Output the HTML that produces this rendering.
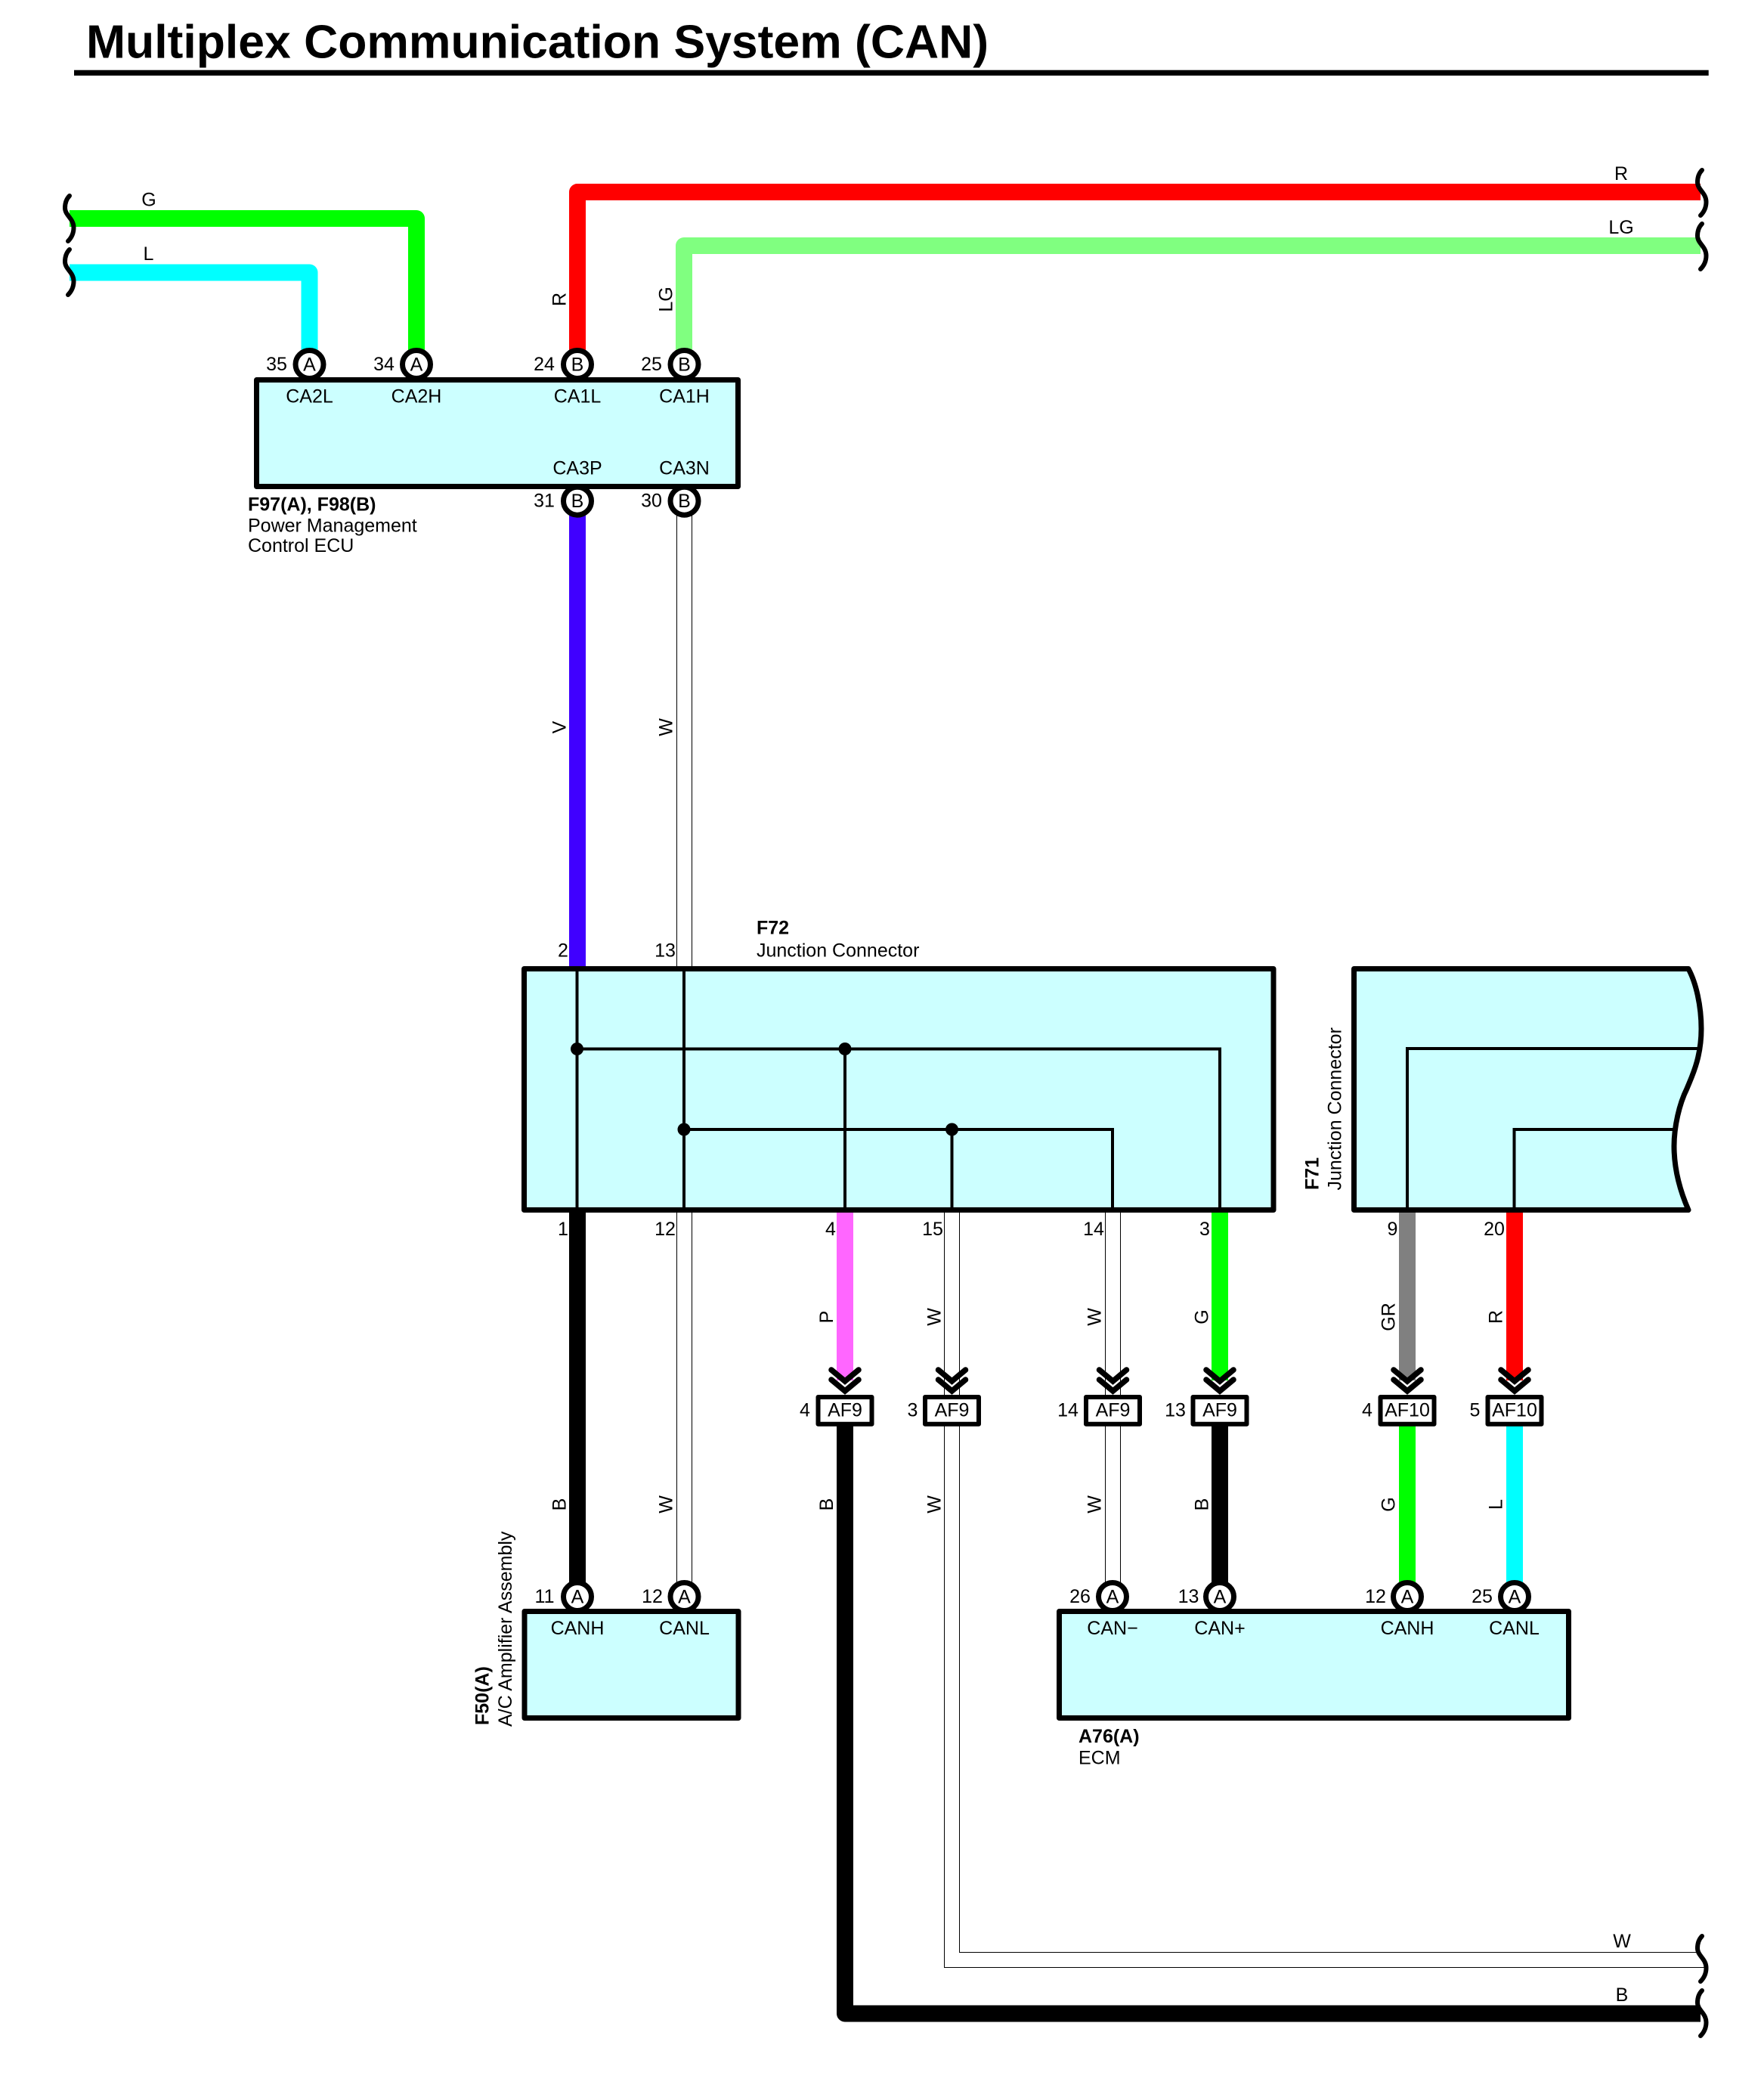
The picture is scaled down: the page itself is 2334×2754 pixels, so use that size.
<!DOCTYPE html>
<html><head><meta charset="utf-8"><title>Multiplex Communication System (CAN)</title>
<style>
html,body{margin:0;padding:0;background:#fff;width:2334px;height:2754px;overflow:hidden}
svg{display:block}
text{font-family:"Liberation Sans",sans-serif;font-size:25px;fill:#000}
.m{text-anchor:middle}
.b{font-weight:bold}
.w{fill:none;stroke-width:22;stroke-linejoin:round;stroke-linecap:butt}
.t{stroke:#000;stroke-width:1;fill:none}
.c{fill:#fff;stroke:#000;stroke-width:7}
.box{fill:#ccffff;stroke:#000;stroke-width:7;stroke-linejoin:round}
.i{fill:none;stroke:#000;stroke-width:4}
.ch{fill:none;stroke:#000;stroke-width:7.500;stroke-linecap:round;stroke-linejoin:miter}
.af{fill:#fff;stroke:#000;stroke-width:6;stroke-linejoin:round}
.sq{fill:none;stroke:#000;stroke-width:6;stroke-linecap:round}
</style></head><body>
<svg xmlns="http://www.w3.org/2000/svg" width="2334" height="2754" viewBox="0 0 2334 2754">
<defs><path id="sq" class="sq" d="M0 0C-4 4 -6 10 -6 16C-6 26 5.500 30 5.500 42C5.500 50 2 56 -2 60"/></defs>
<rect width="2334" height="2754" fill="#fff"/>

<text x="114" y="76.500" class="b" style="font-size:62px" textLength="1194" lengthAdjust="spacingAndGlyphs">Multiplex Communication System (CAN)</text>
<rect x="98" y="92.700" width="2162.700" height="7.300" fill="#000"/>

<!-- top wires -->
<path class="w" stroke="#00ff00" d="M92 289H551V482"/>
<path class="w" stroke="#00ffff" d="M92 360.500H409.500V482"/>
<path class="w" stroke="#ff0000" d="M2250 254H764V482"/>
<path class="w" stroke="#80ff80" d="M2250 325H905V482"/>
<path class="w" stroke="#4000ff" d="M764 663V1282"/>
<line class="t" x1="895.500" y1="663" x2="895.500" y2="1280"/>
<line class="t" x1="915.500" y1="663" x2="915.500" y2="1280"/>

<use href="#sq" x="92" y="259"/><use href="#sq" x="92" y="330"/>
<use href="#sq" x="2252" y="225"/><use href="#sq" x="2252" y="296"/>
<use href="#sq" x="2252" y="2561"/><use href="#sq" x="2252" y="2633"/>

<!-- lower wires -->
<path class="w" stroke="#000" d="M764 1600V2112"/>
<line class="t" x1="895.500" y1="1600" x2="895.500" y2="2112"/>
<line class="t" x1="915.500" y1="1600" x2="915.500" y2="2112"/>
<path class="w" stroke="#ff66ff" d="M1118 1600V1826"/>
<line class="t" x1="1249.500" y1="1600" x2="1249.500" y2="1846"/>
<line class="t" x1="1269.500" y1="1600" x2="1269.500" y2="1846"/>
<line class="t" x1="1462.500" y1="1600" x2="1462.500" y2="1846"/>
<line class="t" x1="1482.500" y1="1600" x2="1482.500" y2="1846"/>
<path class="w" stroke="#00ff00" d="M1614 1600V1826"/>
<path class="w" stroke="#808080" d="M1862 1600V1826"/>
<path class="w" stroke="#ff0000" d="M2004 1600V1826"/>

<path class="w" stroke="#000" d="M1118 1880V2663.500H2250"/>
<path class="t" d="M1249.500 1880V2602.500H2256"/>
<path class="t" d="M1269.500 1880V2582.500H2246"/>
<line class="t" x1="1462.500" y1="1880" x2="1462.500" y2="2112"/>
<line class="t" x1="1482.500" y1="1880" x2="1482.500" y2="2112"/>
<path class="w" stroke="#000" d="M1614 1880V2112"/>
<path class="w" stroke="#00ff00" d="M1862 1880V2112"/>
<path class="w" stroke="#00ffff" d="M2004 1880V2112"/>

<!-- circles -->
<circle class="c" cx="409.500" cy="482" r="18.500"/><circle class="c" cx="551" cy="482" r="18.500"/>
<circle class="c" cx="764" cy="482" r="18.500"/><circle class="c" cx="905.500" cy="482" r="18.500"/>
<circle class="c" cx="764" cy="662.700" r="18.500"/><circle class="c" cx="905.500" cy="662.700" r="18.500"/>
<circle class="c" cx="764" cy="2112" r="18.500"/><circle class="c" cx="905.500" cy="2112" r="18.500"/>
<circle class="c" cx="1472" cy="2112" r="18.500"/><circle class="c" cx="1614" cy="2112" r="18.500"/>
<circle class="c" cx="1862" cy="2112" r="18.500"/><circle class="c" cx="2004" cy="2112" r="18.500"/>

<!-- boxes -->
<rect class="box" x="339.500" y="502.500" width="637" height="141"/>
<rect class="box" x="693.500" y="1281.500" width="991.500" height="319"/>
<path class="box" d="M1791.500 1281.500H2234C2244 1300 2251 1330 2251 1361C2251 1400 2238 1425 2232 1440C2222 1460 2215 1490 2215 1516C2215 1550 2225 1580 2234 1600.500H1791.500Z"/>
<rect class="box" x="694" y="2131.500" width="283" height="141"/>
<rect class="box" x="1401.500" y="2131.500" width="674" height="141"/>

<!-- inner F72 -->
<g class="i">
<path d="M763.500 1283V1599"/><path d="M905 1283V1599"/>
<path d="M763.500 1387.500H1614V1599"/><path d="M1118 1387.500V1599"/>
<path d="M905 1494H1472V1599"/><path d="M1259.500 1494V1599"/>
<path d="M1862 1599V1387H2250"/><path d="M2003.500 1599V1494H2215"/>
</g>
<circle cx="763.500" cy="1387.500" r="8.500"/><circle cx="1118" cy="1387.500" r="8.500"/>
<circle cx="905" cy="1494" r="8.500"/><circle cx="1259.500" cy="1494" r="8.500"/>

<!-- chevrons and AF boxes -->
<path class="ch" d="M1100 1812L1118 1827L1136 1812M1100 1825L1118 1840L1136 1825"/>
<path class="ch" d="M1241.500 1812L1259.500 1827L1277.500 1812M1241.500 1825L1259.500 1840L1277.500 1825"/>
<path class="ch" d="M1454.500 1812L1472.500 1827L1490.500 1812M1454.500 1825L1472.500 1840L1490.500 1825"/>
<path class="ch" d="M1596 1812L1614 1827L1632 1812M1596 1825L1614 1840L1632 1825"/>
<path class="ch" d="M1844 1812L1862 1827L1880 1812M1844 1825L1862 1840L1880 1825"/>
<path class="ch" d="M1986 1812L2004 1827L2022 1812M1986 1825L2004 1840L2022 1825"/>
<rect class="af" x="1082.500" y="1848" width="71" height="35.700"/>
<rect class="af" x="1224" y="1848" width="71" height="35.700"/>
<rect class="af" x="1437" y="1848" width="71" height="35.700"/>
<rect class="af" x="1578.500" y="1848" width="71" height="35.700"/>
<rect class="af" x="1826.500" y="1848" width="71" height="35.700"/>
<rect class="af" x="1968.500" y="1848" width="71" height="35.700"/>

<!-- circle letters -->
<text class="m" x="409.500" y="490.500">A</text><text class="m" x="551" y="490.500">A</text>
<text class="m" x="764" y="490.500">B</text><text class="m" x="905.500" y="490.500">B</text>
<text class="m" x="764" y="671">B</text><text class="m" x="905.500" y="671">B</text>
<text class="m" x="764" y="2120.500">A</text><text class="m" x="905.500" y="2120.500">A</text>
<text class="m" x="1472" y="2120.500">A</text><text class="m" x="1614" y="2120.500">A</text>
<text class="m" x="1862" y="2120.500">A</text><text class="m" x="2004" y="2120.500">A</text>

<!-- pin numbers -->
<text class="m" x="366" y="490">35</text><text class="m" x="508" y="490">34</text>
<text class="m" x="720" y="490">24</text><text class="m" x="862" y="490">25</text>
<text class="m" x="720" y="670.500">31</text><text class="m" x="862" y="670.500">30</text>
<text class="m" x="745" y="1265.500">2</text><text class="m" x="880" y="1265.500">13</text>
<text class="m" x="745" y="1634">1</text><text class="m" x="880" y="1634">12</text>
<text class="m" x="1099" y="1634">4</text><text class="m" x="1234" y="1634">15</text>
<text class="m" x="1447" y="1634">14</text><text class="m" x="1594" y="1634">3</text>
<text class="m" x="1842.500" y="1634">9</text><text class="m" x="1977" y="1634">20</text>
<text class="m" x="1065" y="1873.500">4</text><text class="m" x="1207.500" y="1873.500">3</text>
<text class="m" x="1413" y="1873.500">14</text><text class="m" x="1555" y="1873.500">13</text>
<text class="m" x="1809" y="1873.500">4</text><text class="m" x="1951.500" y="1873.500">5</text>
<text class="m" x="720.500" y="2120">11</text><text class="m" x="863" y="2120">12</text>
<text class="m" x="1429" y="2120">26</text><text class="m" x="1572.500" y="2120">13</text>
<text class="m" x="1820" y="2120">12</text><text class="m" x="1961" y="2120">25</text>

<!-- AF text -->
<text class="m" x="1118" y="1873.500">AF9</text><text class="m" x="1259.500" y="1873.500">AF9</text>
<text class="m" x="1472.500" y="1873.500">AF9</text><text class="m" x="1614" y="1873.500">AF9</text>
<text class="m" x="1862" y="1873.500">AF10</text><text class="m" x="2004" y="1873.500">AF10</text>

<!-- terminal names -->
<text class="m" x="409.500" y="532.500">CA2L</text><text class="m" x="551" y="532.500">CA2H</text>
<text class="m" x="764" y="532.500">CA1L</text><text class="m" x="905.500" y="532.500">CA1H</text>
<text class="m" x="764" y="627.500">CA3P</text><text class="m" x="905.500" y="627.500">CA3N</text>
<text class="m" x="764" y="2162">CANH</text><text class="m" x="905.500" y="2162">CANL</text>
<text class="m" x="1472" y="2162">CAN−</text><text class="m" x="1614" y="2162">CAN+</text>
<text class="m" x="1862" y="2162">CANH</text><text class="m" x="2003.500" y="2162">CANL</text>

<!-- horizontal wire colours -->
<text class="m" x="197" y="272.500">G</text><text class="m" x="196.500" y="344">L</text>
<text class="m" x="2145" y="238">R</text><text class="m" x="2145" y="309">LG</text>
<text class="m" x="2146" y="2576">W</text><text class="m" x="2146" y="2647">B</text>

<!-- vertical wire colours -->
<text class="m" transform="translate(748.500 396) rotate(-90)">R</text>
<text class="m" transform="translate(889.500 396) rotate(-90)">LG</text>
<text class="m" transform="translate(748.500 962) rotate(-90)">V</text>
<text class="m" transform="translate(889.500 962) rotate(-90)">W</text>
<text class="m" transform="translate(1102 1742) rotate(-90)">P</text>
<text class="m" transform="translate(1244.500 1742) rotate(-90)">W</text>
<text class="m" transform="translate(1456.500 1742) rotate(-90)">W</text>
<text class="m" transform="translate(1598.500 1742) rotate(-90)">G</text>
<text class="m" transform="translate(1845.500 1742) rotate(-90)">GR</text>
<text class="m" transform="translate(1987.500 1742) rotate(-90)">R</text>
<text class="m" transform="translate(748.500 1990) rotate(-90)">B</text>
<text class="m" transform="translate(889.500 1990) rotate(-90)">W</text>
<text class="m" transform="translate(1102 1990) rotate(-90)">B</text>
<text class="m" transform="translate(1244.500 1990) rotate(-90)">W</text>
<text class="m" transform="translate(1456.500 1990) rotate(-90)">W</text>
<text class="m" transform="translate(1598.500 1990) rotate(-90)">B</text>
<text class="m" transform="translate(1845.500 1990) rotate(-90)">G</text>
<text class="m" transform="translate(1987.500 1990) rotate(-90)">L</text>

<!-- component labels -->
<text class="b" x="328" y="675.500">F97(A), F98(B)</text>
<text x="328" y="703.500">Power Management</text>
<text x="328" y="730">Control ECU</text>
<text class="b" x="1001" y="1235.500">F72</text>
<text x="1001" y="1265.500">Junction Connector</text>
<text class="b" transform="translate(1744.500 1574) rotate(-90)">F71</text>
<text transform="translate(1774.500 1574.500) rotate(-90)">Junction Connector</text>
<text class="b" transform="translate(646.500 2282) rotate(-90)">F50(A)</text>
<text transform="translate(677 2284) rotate(-90)">A/C Amplifier Assembly</text>
<text class="b" x="1427" y="2305">A76(A)</text>
<text x="1427" y="2333.500">ECM</text>
</svg>
</body></html>
